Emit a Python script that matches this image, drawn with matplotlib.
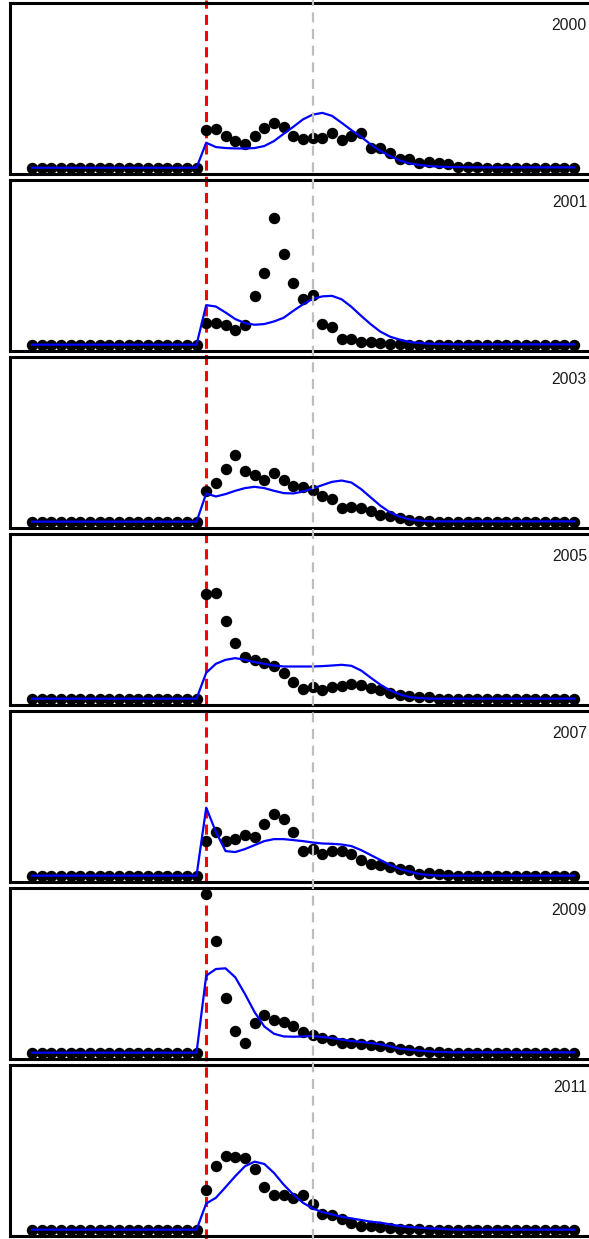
import matplotlib
matplotlib.use('Agg')
import matplotlib.pyplot as plt
import matplotlib.transforms as mtransforms
from matplotlib.lines import Line2D

plt.rcParams['font.family'] = ['Liberation Sans', 'DejaVu Sans']

years = ['2000', '2001', '2003', '2005', '2007', '2009', '2011']
event_idx = 18   # red dashed line
ref_idx = 29     # grey dashed line

# 18 flat points before the event
zeros_before = [0, 0, 0, 0, 0, 0, 0, 0, 0, 0, 0, 0, 0, 0, 0, 0, 0, 0]

obs_2000 = zeros_before + [37.7, 39, 32.3, 26.7, 24, 31.7, 40, 45, 40.7, 31.7, 29, 29.3, 29.7, 35,
                           27.7, 31.7, 35, 20, 19.3, 15, 9, 8.3, 4.3, 6, 5, 3.3, 0.7, 0.7, 0.7,
                           0, 0, 0, 0, 0, 0, 0, 0, 0, 0]
fit_2000 = zeros_before + [25, 20.7, 19.7, 19.3, 19.3, 19.7, 21.7, 26.7, 34, 41, 48.5, 53.3, 55, 52,
                           45, 37.7, 31, 23.3, 16.7, 11.7, 7.3, 4.3, 2.7, 1.7, 1, 0.7, 0.5, 0.4,
                           0.3, 0.3, 0.3, 0.3, 0.3, 0.3, 0.3, 0.3, 0.3, 0.3, 0.3]

obs_2001 = zeros_before + [21.7, 21.3, 20, 15, 19.7, 49, 72.3, 126.7, 91.3, 62, 45.7, 50.3, 21, 17.7,
                           6, 5.3, 2.7, 2.7, 2, 1, 0.3,
                           0, 0, 0, 0, 0, 0, 0, 0, 0, 0, 0, 0, 0, 0, 0, 0, 0, 0]
fit_2001 = zeros_before + [39.7, 38.3, 32.3, 25.7, 21.7, 20, 20.7, 23.3, 27, 34, 40.5, 46, 48.5, 49,
                           45.5, 38, 29, 20.5, 13, 8, 5, 2.7, 1.7, 1, 0.7, 0.5,
                           0.3, 0.3, 0.3, 0.3, 0.3, 0.3, 0.3, 0.3, 0.3, 0.3, 0.3, 0.3, 0.3]

obs_2003 = zeros_before + [31, 38.7, 52.7, 67, 51, 46.7, 42, 48.7, 42, 35.7, 35, 32, 25.7, 22.7,
                           14, 15, 13.3, 10.7, 7, 6, 3.7, 2, 1, 1,
                           0, 0, 0, 0, 0, 0, 0, 0, 0, 0, 0, 0, 0, 0, 0]
fit_2003 = zeros_before + [28.3, 25.3, 27.7, 31, 33.7, 35, 33.7, 31, 28.7, 28.3, 30.3, 33.3, 36.7, 40,
                           41.3, 39.3, 32.7, 24.3, 16, 9.3, 5, 2.3, 1, 0.5,
                           0.3, 0.3, 0.3, 0.3, 0.3, 0.3, 0.3, 0.3, 0.3, 0.3, 0.3, 0.3, 0.3, 0.3, 0.3]

obs_2005 = zeros_before + [105, 105.7, 78, 56.3, 41.7, 39, 35.7, 32.7, 26, 17, 9.7, 11.3, 9, 11.3,
                           12.7, 14.3, 13.3, 10.3, 8.3, 6, 4, 2.7, 1.3, 1.3,
                           0, 0, 0, 0, 0, 0, 0, 0, 0, 0, 0, 0, 0, 0, 0]
fit_2005 = zeros_before + [26, 35, 39, 40.7, 39, 36.7, 35, 33.3, 32.3, 32.3, 32.3, 32.3, 32.7, 33.3,
                           34, 33, 28.3, 21, 14, 8.3, 4.3, 1.7, 0.7,
                           0, 0, 0, 0, 0, 0, 0, 0, 0, 0, 0, 0, 0, 0, 0, 0]

obs_2007 = zeros_before + [34.7, 44, 34.7, 37.3, 41.3, 39, 52.3, 62.3, 57.3, 44, 24.7, 26.7, 21.7, 24.7,
                           24.7, 21.7, 15.3, 11.7, 10.3, 8.7, 6.3, 5.7, 1.7, 2.3, 1.3, 0.7,
                           0, 0, 0, 0, 0, 0, 0, 0, 0, 0, 0, 0, 0]
fit_2007 = zeros_before + [68.3, 44, 24.7, 23.7, 26.7, 30.7, 34.7, 36.7, 36.7, 35.7, 34.7, 33.3, 32.3, 32,
                           31.3, 29.7, 25.7, 20.7, 15.7, 10.7, 6.7, 4, 1.7, 0.7,
                           0, 0, 0, 0, 0, 0, 0, 0, 0, 0, 0, 0, 0, 0, 0]

obs_2009 = zeros_before + [159, 112.3, 55, 21.7, 10, 30, 38, 33.3, 30.7, 26.7, 20.3, 17.3, 14.7, 12.7,
                           9.7, 10, 9, 7.3, 7, 5.7, 4, 2.3, 2, 1, 1,
                           0, 0, 0, 0, 0, 0, 0, 0, 0, 0, 0, 0, 0, 0]
fit_2009 = zeros_before + [77.3, 84, 84.7, 75.7, 59, 40.7, 26.3, 19, 16.3, 16, 16.3, 16.7, 15.7, 14.7,
                           13, 11.7, 10.7, 9.7, 8.3, 6.3, 4, 3, 2, 1.3, 0.7, 0.5,
                           0.3, 0.3, 0.3, 0.3, 0.3, 0.3, 0.3, 0.3, 0.3, 0.3, 0.3, 0.3, 0.3]

obs_2011 = zeros_before + [40.3, 63.7, 73.7, 73, 72, 61, 43, 35.3, 35.3, 32, 35.3, 25.3, 15.3, 14.7,
                           10.3, 7, 3.7, 3.7, 2.7, 2, 1, 1, 0.3,
                           0, 0, 0, 0, 0, 0, 0, 0, 0, 0, 0, 0, 0, 0, 0, 0]
fit_2011 = zeros_before + [26.3, 32, 42.7, 53.7, 63.7, 68.3, 66, 57, 45.3, 35.3, 27, 21.3, 17.7, 15.3,
                           13, 11.3, 9.7, 8, 7, 5.3, 3.7, 2.7, 2, 1.3, 1, 0.3,
                           0, 0, 0, 0, 0, 0, 0, 0, 0, 0, 0, 0, 0]

observed = [obs_2000, obs_2001, obs_2003, obs_2005, obs_2007, obs_2009, obs_2011]
fitted = [fit_2000, fit_2001, fit_2003, fit_2005, fit_2007, fit_2009, fit_2011]

n = len(obs_2000)
x = list(range(n))
ymax = max(max(s) for s in observed)
pad_x = 0.04 * (n - 1)

W, H = 589, 1239
fig = plt.figure(figsize=(W / 100, H / 100), dpi=100)
fig.patch.set_facecolor('white')

# panel geometry in pixels
left_px, width_px = 10.3, 585.4
top0, step, height_px = 3, 177, 171

axes = []
for k, year in enumerate(years):
    top = top0 + k * step
    ax = fig.add_axes([left_px / W, 1 - (top + height_px) / H, width_px / W, height_px / H])
    ax.patch.set_visible(False)
    ax.plot(x, observed[k], 'o', color='black', markersize=7.2, zorder=2)
    ax.plot(x, fitted[k], '-', color='#0000FF', lw=1.6, zorder=3)
    ax.set_xlim(-pad_x, n - 1 + pad_x)
    ax.set_ylim(-0.04 * ymax, 1.04 * ymax)
    ax.set_xticks([])
    ax.set_yticks([])
    for sp in ax.spines.values():
        sp.set_linewidth(2.2)
        sp.set_color('black')
    ax.text(0.985, 0.871, year, transform=ax.transAxes, ha='right', va='center',
            fontsize=11.3, color='#1a1a1a')
    axes.append(ax)

# vertical lines run through the whole figure
trans = mtransforms.blended_transform_factory(axes[0].transData, fig.transFigure)
fig.add_artist(Line2D([event_idx, event_idx], [0, 1], transform=trans, color='#FF0000',
                      lw=2.2, dashes=(3.3, 2.0), zorder=-1))
fig.add_artist(Line2D([ref_idx, ref_idx], [0, 1], transform=trans, color='#BEBEBE',
                      lw=1.6, dashes=(4.5, 3.0), zorder=5))

fig.savefig('out.png', dpi=100)
